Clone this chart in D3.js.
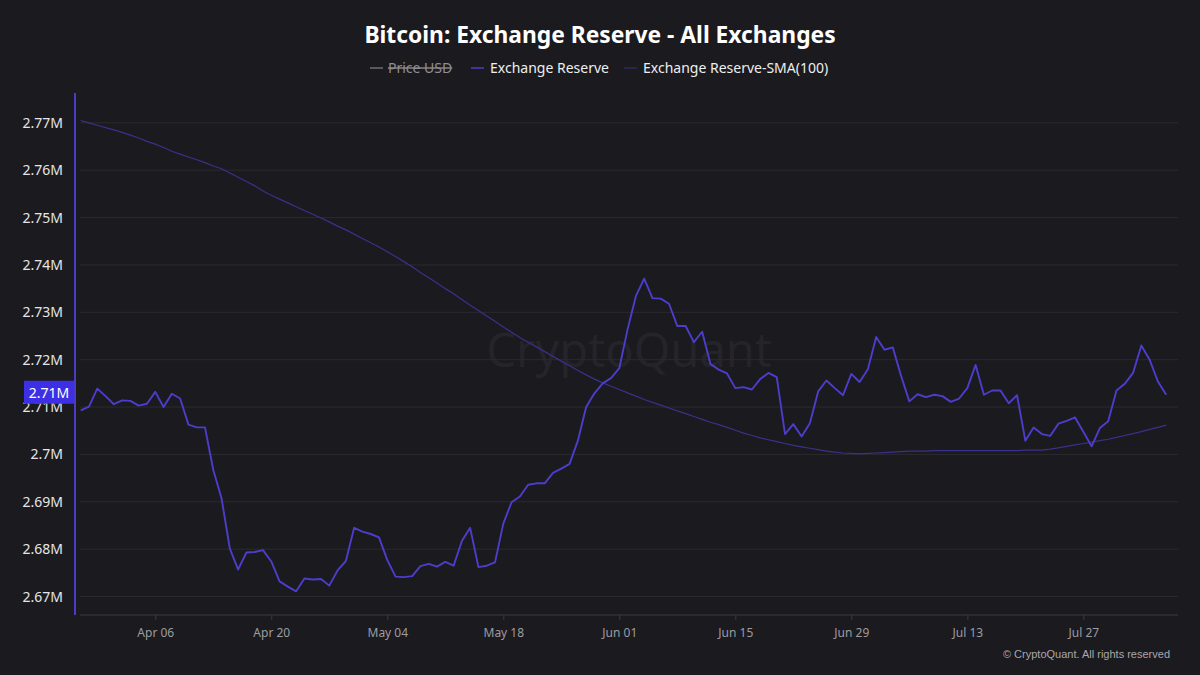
<!DOCTYPE html>
<html>
<head>
<meta charset="utf-8">
<script src="https://cdn.jsdelivr.net/npm/d3@7"></script>
<style>
html,body{margin:0;padding:0;background:#1b1a1f;}
svg{display:block;}
</style>
</head>
<body>
<svg id="chart" width="1200" height="675"></svg>
<script>
// ---- data (thousands of BTC), daily from 2024-03-28 ----
const startDate = "2024-03-28";
const reserveK = [
 2709.3,2710.1,2713.9,2712.3,2710.6,2711.4,2711.3,2710.3,2710.7,2713.2,
 2710.0,2712.8,2711.8,2706.3,2705.7,2705.7,2696.7,2690.7,2680.1,2675.7,
 2679.3,2679.4,2679.8,2677.4,2673.2,2672.1,2671.1,2673.8,2673.6,2673.7,
 2672.3,2675.5,2677.5,2684.5,2683.7,2683.2,2682.5,2677.7,2674.2,2674.1,
 2674.3,2676.4,2676.9,2676.3,2677.3,2676.5,2681.7,2684.5,2676.2,2676.5,
 2677.2,2685.4,2689.9,2691.1,2693.6,2693.9,2693.9,2696.1,2697.0,2698.0,
 2702.9,2710.0,2712.9,2715.0,2716.1,2718.2,2726.4,2733.4,2737.1,2733.0,
 2732.9,2731.8,2727.1,2727.1,2723.7,2725.9,2719.1,2717.9,2717.1,2714.0,
 2714.2,2713.7,2715.9,2717.2,2716.3,2704.3,2706.4,2703.8,2706.6,2713.3,
 2715.6,2714.0,2712.5,2717.0,2715.3,2718.0,2724.8,2722.1,2722.6,2716.6,
 2711.2,2712.7,2712.1,2712.6,2712.3,2711.1,2711.8,2714.0,2718.9,2712.6,
 2713.5,2713.5,2710.8,2712.5,2702.9,2705.7,2704.3,2703.9,2706.5,2707.1,
 2707.8,2704.8,2701.7,2705.6,2707.0,2713.5,2714.9,2717.2,2723.0,2720.0,
 2715.4,2712.6
];
const smaK = [
 2770.5,2770.0,2769.5,2769.0,2768.5,2768.0,2767.4,2766.8,2766.1,2765.5,
 2764.8,2764.0,2763.4,2762.8,2762.2,2761.6,2760.9,2760.3,2759.4,2758.5,
 2757.6,2756.7,2755.6,2754.7,2753.9,2753.1,2752.3,2751.5,2750.7,2749.9,
 2749.1,2748.2,2747.4,2746.5,2745.6,2744.7,2743.8,2742.8,2741.8,2740.7,
 2739.6,2738.4,2737.3,2736.2,2735.0,2733.9,2732.7,2731.5,2730.4,2729.2,
 2728.1,2726.9,2725.8,2724.7,2723.7,2722.7,2721.7,2720.7,2719.7,2718.7,
 2717.7,2716.8,2715.9,2715.1,2714.4,2713.7,2713.0,2712.3,2711.6,2711.0,
 2710.4,2709.8,2709.2,2708.6,2708.0,2707.4,2706.8,2706.3,2705.7,2705.1,
 2704.5,2704.0,2703.5,2703.1,2702.7,2702.3,2701.9,2701.6,2701.3,2701.0,
 2700.7,2700.5,2700.3,2700.2,2700.1,2700.2,2700.3,2700.4,2700.5,2700.6,
 2700.7,2700.7,2700.7,2700.8,2700.8,2700.8,2700.8,2700.8,2700.8,2700.8,
 2700.8,2700.8,2700.8,2700.8,2700.9,2700.9,2700.9,2701.1,2701.4,2701.7,
 2702.0,2702.3,2702.6,2702.9,2703.2,2703.6,2704.0,2704.4,2704.8,2705.3,
 2705.7,2706.2
];
const yTickValuesK = [2670,2680,2690,2700,2710,2720,2730,2740,2750,2760,2770];
const xTickLabels = ["Apr 06","Apr 20","May 04","May 18","Jun 01","Jun 15","Jun 29","Jul 13","Jul 27"];
const legendLabels = ["Price USD","Exchange Reserve","Exchange Reserve-SMA(100)"];
const titleText = "Bitcoin: Exchange Reserve - All Exchanges";

// ---- build ----
const parseDay = d3.utcParse("%Y-%m-%d");
const start = parseDay(startDate);
const dates = reserveK.map((_, i) => d3.utcDay.offset(start, i));
const rows = dates.map((d, i) => ({date: d, reserve: reserveK[i], sma: smaK[i]}));
const parseTick = d3.utcParse("%b %d %Y");
const tickDates = xTickLabels.map(t => parseTick(t + " 2024"));

const svg = d3.select("#chart");
const W = 1200, H = 675;
const FONT = "'Noto Sans', 'Open Sans', sans-serif";
svg.append("rect").attr("width", W).attr("height", H).attr("fill", "#1b1a1f");

const plotLeft = 80, plotRight = 1178, plotTop = 93, plotBottom = 615;

const x = d3.scaleUtc()
  .domain([dates[0], dates[dates.length - 1]])
  .range([80.7, 1166.2]);
const y = d3.scaleLinear()
  .domain([2666.1, 2776.3])
  .range([plotBottom, plotTop]);

// watermark
svg.append("text")
  .attr("x", 629).attr("y", 367)
  .attr("text-anchor", "middle")
  .attr("font-family", FONT)
  .attr("font-size", 47)
  .attr("fill", "#25242a")
  .text("CryptoQuant");

// gridlines
svg.append("g")
  .selectAll("line")
  .data(yTickValuesK)
  .join("line")
  .attr("x1", plotLeft).attr("x2", plotRight)
  .attr("y1", d => y(d)).attr("y2", d => y(d))
  .attr("stroke", "#2b2a30").attr("stroke-width", 1);

// y axis
const yAxis = d3.axisLeft(y)
  .tickValues(yTickValuesK)
  .tickSize(0)
  .tickPadding(12)
  .tickFormat(v => d3.format(".2~f")(v / 1000) + "M");
const gy = svg.append("g").attr("transform", "translate(75,0)").call(yAxis);
gy.select(".domain").attr("stroke", "#4a3cc6").attr("stroke-width", 2)
  .attr("d", `M0,${plotTop}V${plotBottom}`);
gy.selectAll("text")
  .attr("font-family", FONT).attr("font-size", 14)
  .attr("fill", "#e6e6e6");

// x axis
const xAxis = d3.axisBottom(x)
  .tickValues(tickDates)
  .tickSize(5)
  .tickPadding(8)
  .tickFormat(d3.utcFormat("%b %d"));
const gx = svg.append("g").attr("transform", `translate(0,${plotBottom})`).call(xAxis);
gx.select(".domain").attr("stroke", "#3b3a41").attr("d", `M${plotLeft},0H${plotRight}`);
gx.selectAll(".tick line").attr("stroke", "#3b3a41");
gx.selectAll("text")
  .attr("font-family", FONT).attr("font-size", 12)
  .attr("fill", "#9c9ca2");

// lines
const lineRes = d3.line().x(d => x(d.date)).y(d => y(d.reserve));
const lineSma = d3.line().x(d => x(d.date)).y(d => y(d.sma));
svg.append("path").datum(rows)
  .attr("d", lineSma).attr("fill", "none")
  .attr("stroke", "#3a318c").attr("stroke-width", 1.2);
svg.append("path").datum(rows)
  .attr("d", lineRes).attr("fill", "none")
  .attr("stroke", "#4c3dcb").attr("stroke-width", 1.9)
  .attr("stroke-linejoin", "round");

// last value badge
const last = rows[rows.length - 1];
const by = y(last.reserve) - 2;
svg.append("rect")
  .attr("x", 24).attr("y", by - 12).attr("width", 50).attr("height", 23)
  .attr("fill", "#3d2fe4");
svg.append("text")
  .attr("x", 49).attr("y", by).attr("dy", "0.35em")
  .attr("text-anchor", "middle")
  .attr("font-family", FONT).attr("font-size", 14)
  .attr("fill", "#ffffff")
  .text(d3.format(".2~f")(last.reserve / 1000) + "M");

// title
svg.append("text")
  .attr("x", 600).attr("y", 43)
  .attr("text-anchor", "middle")
  .attr("font-family", FONT).attr("font-weight", 700)
  .attr("font-size", 22.8)
  .attr("fill", "#ffffff")
  .text(titleText);

// legend
const legendItems = [
  {label: legendLabels[0], mx: 370, tx: 388, color: "#6e6e74", text: "#8e8e94", strike: true},
  {label: legendLabels[1], mx: 471, tx: 490, color: "#4c3dcb", text: "#eeeeee", strike: false},
  {label: legendLabels[2], mx: 624, tx: 643, color: "#2f2a63", text: "#eeeeee", strike: false}
];
const lg = svg.append("g");
legendItems.forEach(it => {
  lg.append("line")
    .attr("x1", it.mx).attr("x2", it.mx + 13)
    .attr("y1", 68).attr("y2", 68)
    .attr("stroke", it.color).attr("stroke-width", 1.5);
  const t = lg.append("text")
    .attr("x", it.tx).attr("y", 73)
    .attr("font-family", FONT).attr("font-size", 14)
    .attr("fill", it.text)
    .text(it.label);
  if (it.strike) t.attr("text-decoration", "line-through");
});

// copyright
svg.append("text")
  .attr("x", 1170).attr("y", 658)
  .attr("text-anchor", "end")
  .attr("font-family", "'Liberation Sans', Arial, sans-serif")
  .attr("font-size", 11)
  .attr("fill", "#a8a8ae")
  .text("© CryptoQuant. All rights reserved");
</script>
</body>
</html>
